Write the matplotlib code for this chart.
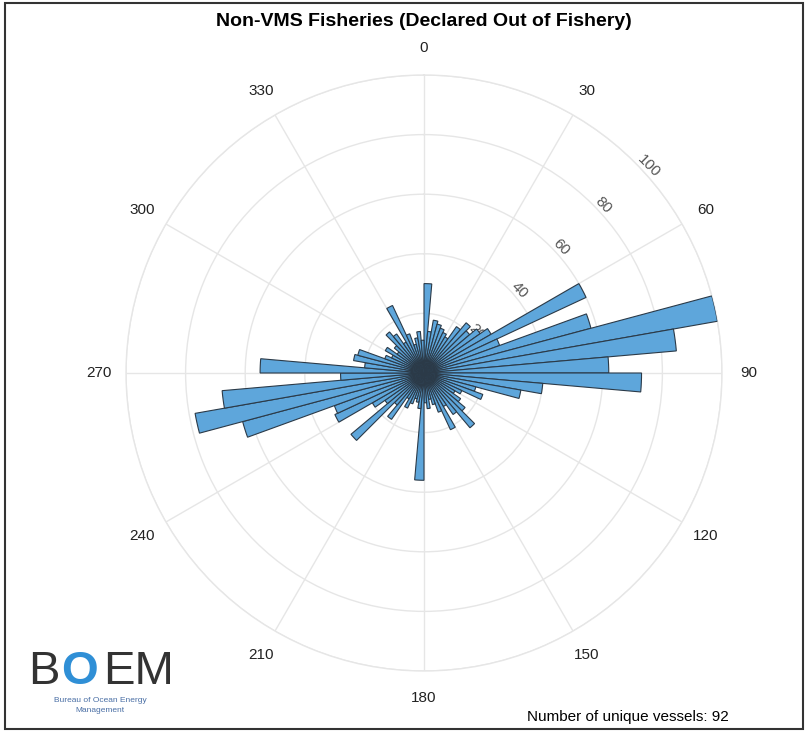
import matplotlib
matplotlib.use("Agg")
import matplotlib.pyplot as plt
import numpy as np
from matplotlib.patches import Rectangle

plt.rcParams['font.family'] = ['Liberation Sans', 'DejaVu Sans']

# 5 degree bins, clockwise from north
bin_starts = np.arange(0, 360, 5)
counts = [30, 14, 18, 17, 16, 15, 14, 19, 22, 20, 23, 26,
          60, 27, 58, 100, 85, 62, 73, 40, 33, 18, 21, 14,
          12, 15, 18, 24, 17, 13, 21, 14, 11, 9, 12, 10,
          36, 12, 10, 9, 11, 13, 10, 19, 14, 32, 16, 20,
          33, 32, 63, 78, 68, 28, 55, 20, 24, 23, 14, 12,
          15, 11, 13, 18, 16, 12, 25, 14, 10, 12, 14, 11]
theta_ticks = list(range(0, 360, 30))
r_ticks = [0, 20, 40, 60, 80, 100]
title = "Non-VMS Fisheries (Declared Out of Fishery)"
n_vessels = 92

W, H = 807, 732
fig = plt.figure(figsize=(W / 100, H / 100), dpi=100)

cx, cy, R = 424, 373, 298
ax = fig.add_axes([(cx - R) / W, 1 - (cy + R) / H, 2 * R / W, 2 * R / H], projection='polar')
ax.set_theta_zero_location('N')
ax.set_theta_direction(-1)

centers = np.deg2rad(bin_starts + 2.5)
ax.bar(centers, counts, width=np.deg2rad(5), bottom=0, align='center',
       color='#5ea6db', edgecolor='#2b3a48', linewidth=0.8, zorder=3)

ax.set_ylim(0, 100)
ax.set_yticks(r_ticks)
ax.set_yticklabels([str(t) for t in r_ticks], color='#555555', fontsize=11)
ax.set_rlabel_position(45)
ax.tick_params(axis='y', labelrotation=-45)

ax.set_xticks(np.deg2rad(theta_ticks))
ax.set_xticklabels([str(t) for t in theta_ticks], fontsize=11, color='#222222')
ax.tick_params(axis='x', pad=9)
ax.grid(True, color='#e6e6e6', linewidth=1.0, zorder=0)
ax.spines['polar'].set_color('#e6e6e6')
ax.spines['polar'].set_linewidth(1.0)

fig.text(cx / W, 1 - 21 / H, title, ha='center', va='center', fontsize=14, fontweight='bold')
fig.text(628 / W, 1 - 717 / H, "Number of unique vessels: %d" % n_vessels,
         ha='center', va='center', fontsize=11)

# BOEM logo
fig.text(28 / W, 1 - 672 / H, "B", ha='left', va='center', fontsize=34, color='#333333')
fig.text(61 / W, 1 - 672 / H, "O", ha='left', va='center', fontsize=34, color='#2f8fd6', fontweight='bold')
fig.text(103 / W, 1 - 672 / H, "EM", ha='left', va='center', fontsize=34, color='#333333')
fig.text(100 / W, 1 - 700 / H, "Bureau of Ocean Energy", ha='center', va='center', fontsize=6, color='#4a6fa5')
fig.text(100 / W, 1 - 711 / H, "Management", ha='center', va='center', fontsize=6, color='#4a6fa5')

fig.patches.append(Rectangle((5 / W, 1 - 729 / H), 798 / W, 726 / H, transform=fig.transFigure,
                             fill=False, edgecolor='#333333', linewidth=1.5))

fig.savefig("out.png", dpi=100)
